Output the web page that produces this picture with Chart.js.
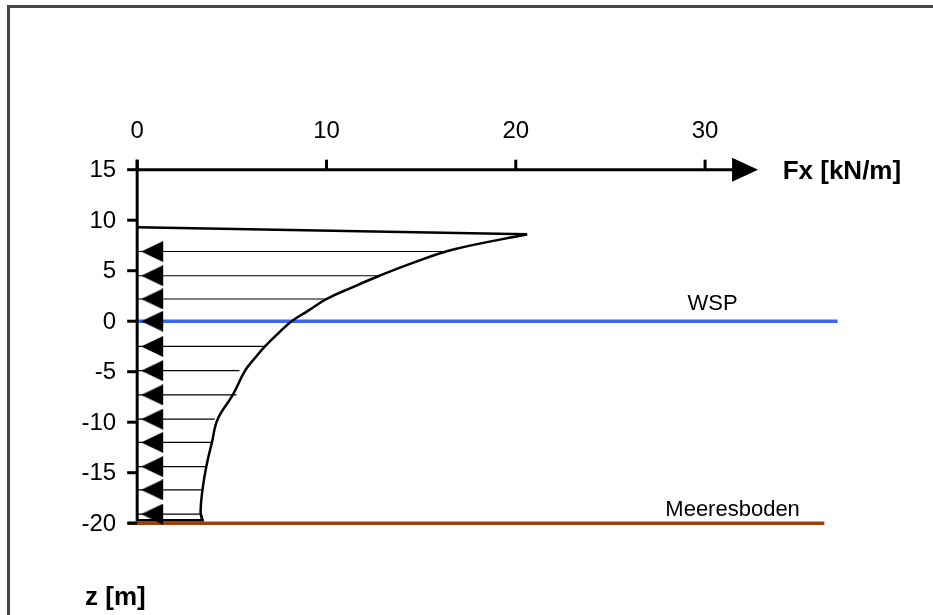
<!DOCTYPE html>
<html>
<head>
<meta charset="utf-8">
<script src="https://cdn.jsdelivr.net/npm/chart.js@4"></script>
<style>
  html, body { margin: 0; padding: 0; background: #fff; }
  #wrap { position: relative; width: 933px; height: 615px; overflow: hidden; }
</style>
</head>
<body>
<div id="wrap"><canvas id="lastChart" width="933" height="615"></canvas></div>
<script>
// --- 1. DATEN ---
// Lastprofil Fx(z): Umriss der Fläche (oben Wellenkamm, unten Meeresboden)
const profileFx = [0, 20.6, 16.7, 14.6, 12.8, 11.3, 10.0, 9.0, 8.16, 7.45, 6.75, 6.2, 5.7, 5.05, 4.25, 3.95, 3.65, 3.45, 3.35, 3.45, 0];
const profileZ = [9.3, 8.6, 7.1, 5.8, 4.5, 3.3, 2.2, 1.0, 0, -1.2, -2.5, -3.7, -4.9, -7.3, -9.7, -12.0, -14.4, -16.7, -19.0, -19.7, -19.7];

// Lastpfeile (Höhe z, Länge Fx)
const arrowZ = [6.9, 4.5, 2.2, 0, -2.5, -4.9, -7.3, -9.7, -12.0, -14.4, -16.7, -19.1];
const arrowFx = [16.5, 12.7, 10.0, 8.2, 6.7, 5.4, 5.25, 4.1, 3.9, 3.6, 3.4, 3.3];

// Achsen
const xTicks = [0, 10, 20, 30];
const yTicks = [15, 10, 5, 0, -5, -10, -15, -20];
const xAxisEnd = 32.8; // Pfeilspitze der Fx-Achse

// Wasserspiegel und Meeresboden
const wspLevel = 0;
const wspRange = [0, 37];
const seabedLevel = -20;
const seabedRange = [-0.5, 36.3];

// Beschriftungen
const labelTexts = ["Fx [kN/m]", "z [m]", "WSP", "Meeresboden"];
const labelX = [34.1, -2.75, 29.07, 27.9];
const labelZ = [14.8, -27.4, 1.75, -18.7];

// --- 2. PFEILSPITZE ALS PUNKT-BILD ---
const headImg = document.createElement("canvas");
headImg.width = 54;
headImg.height = 21;
const hctx = headImg.getContext("2d");
hctx.fillStyle = "#000";
hctx.beginPath();
hctx.moveTo(31, 10.5);
hctx.lineTo(53, 0);
hctx.lineTo(53, 21);
hctx.closePath();
hctx.fill();

// Pfeillinien mit Lücken dazwischen
const arrowLines = [];
arrowZ.forEach((z, i) => {
  arrowLines.push({ x: 0, y: z }, { x: arrowFx[i], y: z }, { x: arrowFx[i], y: null });
});

// Profil: gerade Stücke oben/unten, geglättete Kurve dazwischen
const profilePts = profileFx.map((v, i) => ({ x: v, y: profileZ[i] }));
const last = profilePts.length - 1;

// --- 3. PLUGIN: RAHMEN, ACHSEN, TEXTE ---
const axesPlugin = {
  id: "axesPlugin",
  beforeDraw(chart) {
    const ctx = chart.ctx;
    ctx.save();
    ctx.strokeStyle = "#474747";
    ctx.lineWidth = 3;
    ctx.beginPath();
    ctx.moveTo(8.5, 615);
    ctx.lineTo(8.5, 6.5);
    ctx.lineTo(933, 6.5);
    ctx.stroke();
    ctx.restore();
  },
  afterDatasetsDraw(chart) {
    const { ctx, scales } = chart;
    const sx = scales.x, sy = scales.y;
    const x0 = sx.getPixelForValue(0);
    const yTop = sy.getPixelForValue(yTicks[0]);
    const yBot = sy.getPixelForValue(yTicks[yTicks.length - 1]);
    const xEnd = sx.getPixelForValue(xAxisEnd);

    ctx.save();
    ctx.strokeStyle = "#000";
    ctx.fillStyle = "#000";
    ctx.lineWidth = 3;

    // z-Achse
    ctx.beginPath();
    ctx.moveTo(x0, yTop - 10);
    ctx.lineTo(x0, yBot - 2);
    ctx.stroke();

    // Fx-Achse
    ctx.beginPath();
    ctx.moveTo(x0, yTop);
    ctx.lineTo(xEnd - 24, yTop);
    ctx.stroke();
    ctx.beginPath();
    ctx.moveTo(xEnd, yTop);
    ctx.lineTo(xEnd - 26, yTop - 12);
    ctx.lineTo(xEnd - 26, yTop + 12);
    ctx.closePath();
    ctx.fill();

    // Striche und Zahlen
    ctx.font = "24px 'Liberation Sans', Arial, sans-serif";
    ctx.textBaseline = "middle";
    ctx.textAlign = "center";
    xTicks.forEach((v) => {
      const px = sx.getPixelForValue(v);
      ctx.beginPath();
      ctx.moveTo(px, yTop);
      ctx.lineTo(px, yTop - 10);
      ctx.stroke();
      ctx.fillText(String(v), px, yTop - 38);
    });
    ctx.textAlign = "right";
    yTicks.forEach((v) => {
      const py = sy.getPixelForValue(v);
      ctx.beginPath();
      ctx.moveTo(x0, py);
      ctx.lineTo(x0 - 10, py);
      ctx.stroke();
      ctx.fillText(String(v), x0 - 21, py + 1);
    });

    // Beschriftungen
    ctx.textAlign = "left";
    labelTexts.forEach((t, i) => {
      ctx.font = i < 2 ? "bold 26px 'Liberation Sans', Arial, sans-serif" : "22px 'Liberation Sans', Arial, sans-serif";
      ctx.fillText(t, sx.getPixelForValue(labelX[i]), sy.getPixelForValue(labelZ[i]));
    });
    ctx.restore();
  },
};

// --- 4. CHART ---
const profileStyle = { showLine: true, borderColor: "#000", borderWidth: 2.5, pointRadius: 0, order: 1 };
const ctxLast = document.getElementById("lastChart").getContext("2d");
new Chart(ctxLast, {
  type: "scatter",
  data: {
    datasets: [
      {
        label: "Pfeilspitzen",
        data: arrowZ.map((z) => ({ x: 0, y: z })),
        pointStyle: headImg,
        pointRadius: 10,
        showLine: false,
        order: 0,
      },
      { label: "Fx oben", data: profilePts.slice(0, 2), tension: 0, ...profileStyle },
      { label: "Fx(z)", data: profilePts.slice(1, last), tension: 0.4, ...profileStyle },
      { label: "Fx unten", data: profilePts.slice(last - 2), tension: 0, ...profileStyle },
      {
        label: "WSP",
        data: wspRange.map((v) => ({ x: v, y: wspLevel })),
        showLine: true,
        borderColor: "#3a66f2",
        borderWidth: 3.5,
        pointRadius: 0,
        order: 2,
      },
      {
        label: "Pfeile",
        data: arrowLines,
        showLine: true,
        spanGaps: false,
        borderColor: "#000",
        borderWidth: 1.2,
        pointRadius: 0,
        order: 3,
      },
      {
        label: "Meeresboden",
        data: seabedRange.map((v) => ({ x: v, y: seabedLevel })),
        showLine: true,
        borderColor: "#a0400f",
        borderWidth: 3.5,
        pointRadius: 0,
        order: 4,
      },
    ],
  },
  options: {
    responsive: false,
    animation: false,
    layout: { padding: { left: 23.6, right: 19.7, top: 78.8, bottom: 9.2 } },
    plugins: { legend: { display: false }, tooltip: { enabled: false } },
    scales: {
      x: { type: "linear", min: -6, max: 41, display: false },
      y: { type: "linear", min: -28, max: 24, display: false },
    },
  },
  plugins: [axesPlugin],
});
</script>
</body>
</html>
